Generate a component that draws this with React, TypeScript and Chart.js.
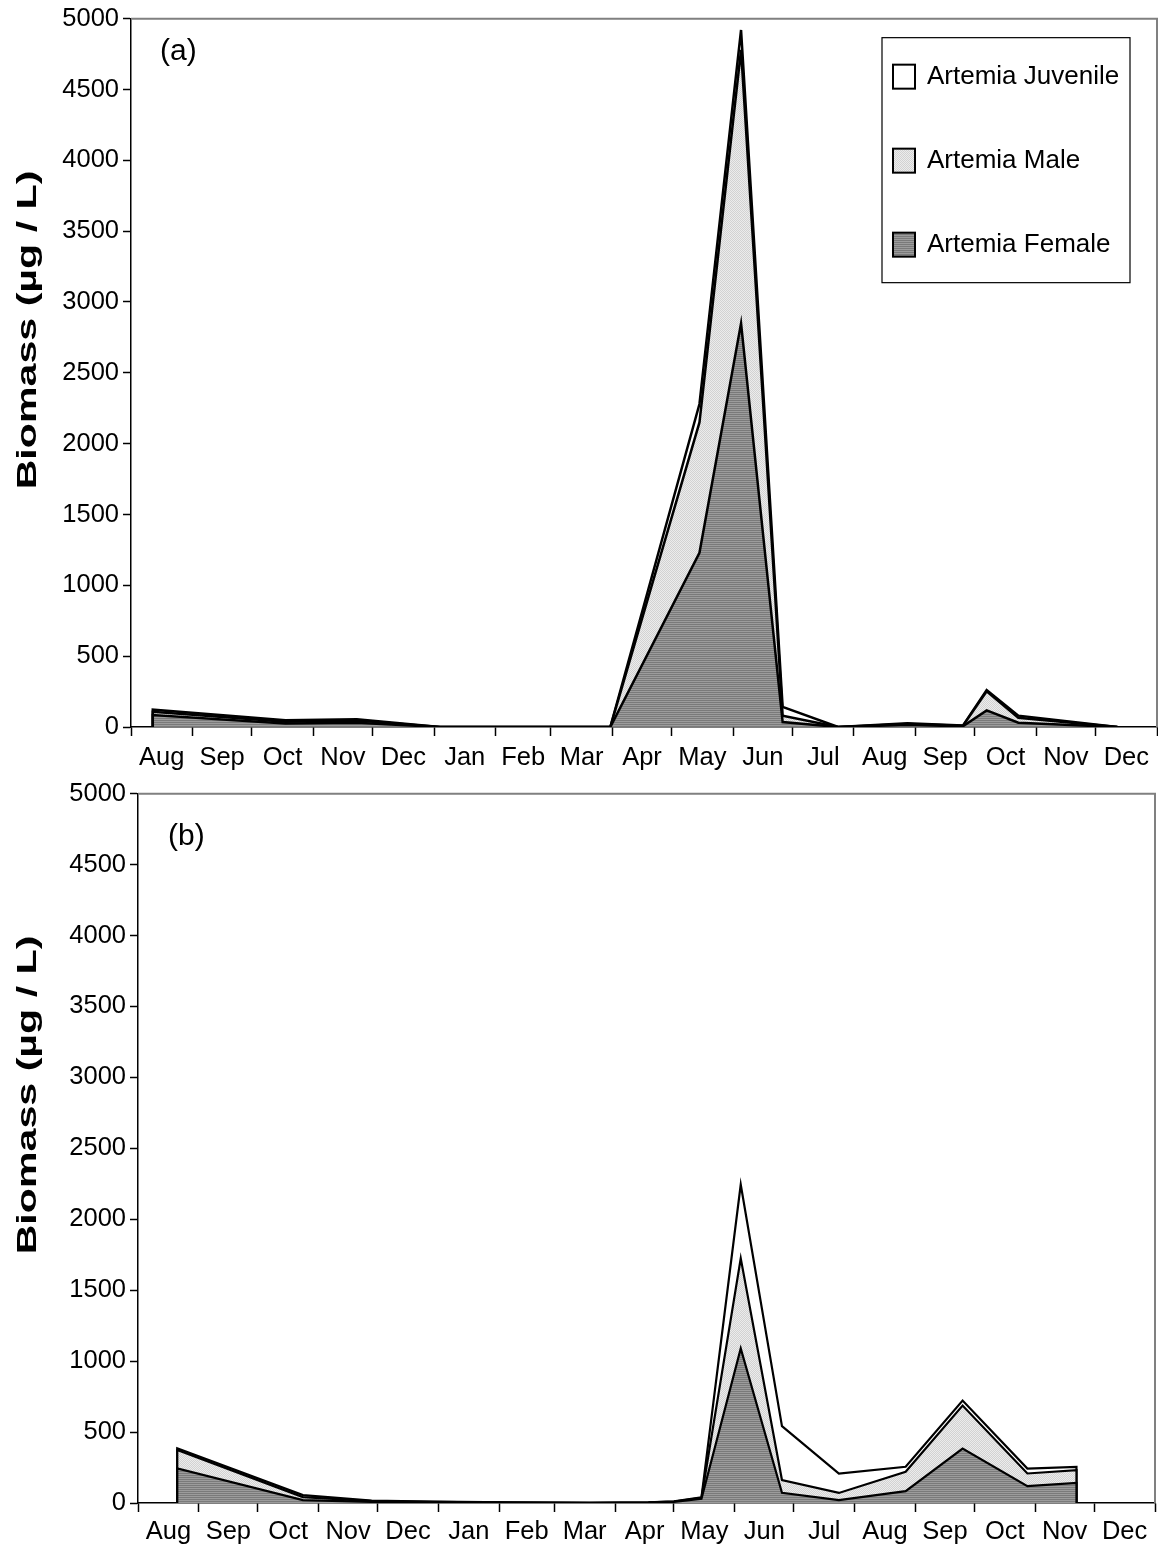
import React, { useEffect, useRef } from 'react';
import { Chart, registerables } from 'chart.js';

Chart.register(...registerables);

// ---------- axis data ----------
const MONTH_LABELS = ['Aug', 'Sep', 'Oct', 'Nov', 'Dec', 'Jan', 'Feb', 'Mar', 'Apr', 'May', 'Jun', 'Jul', 'Aug', 'Sep', 'Oct', 'Nov', 'Dec'];
const MONTH_LENGTHS = [31, 30, 31, 30, 31, 31, 28, 31, 30, 31, 30, 31, 31, 30, 31, 30, 31];
const Y_MAX = 5000;
const Y_STEP = 500;
const Y_TITLE = 'Biomass (µg / L)';
const SERIES_LABELS = ['Artemia Female', 'Artemia Male', 'Artemia Juvenile'];

// ---------- panel (a) : sampling day (days since 1 Aug, first year) ----------
const DAYS_A = [11, 78, 114, 156, 184, 212, 242, 287, 308, 329, 357, 392, 420, 432, 448, 498];
const FEMALE_A = [85, 25, 30, 0, 0, 0, 0, 1230, 2850, 35, 0, 15, 5, 117, 30, 0];
const MALE_A = [22, 12, 15, 0, 0, 0, 0, 920, 1930, 45, 0, 6, 3, 135, 35, 0];
const JUVENILE_A = [15, 10, 10, 0, 0, 0, 0, 130, 140, 62, 0, 5, 2, 8, 15, 0];

// ---------- panel (b) ----------
const DAYS_B = [20, 84, 119, 150, 190, 230, 260, 273, 287, 307, 328, 357, 391, 420, 453, 478];
const FEMALE_B = [243, 20, 8, 5, 2, 1, 3, 8, 30, 1090, 72, 21, 84, 384, 119, 142];
const MALE_B = [130, 22, 5, 3, 1, 0, 1, 2, 7, 635, 90, 50, 136, 303, 89, 89];
const JUVENILE_B = [12, 14, 4, 2, 1, 0, 1, 2, 3, 520, 380, 137, 35, 35, 35, 24];

const FONT = "'Liberation Sans', Arial, sans-serif";

function makePattern(kind: 'female' | 'male' | 'white'): CanvasPattern | string {
  if (kind === 'white') return '#ffffff';
  const c = document.createElement('canvas');
  c.width = 2;
  c.height = 2;
  const g = c.getContext('2d')!;
  if (kind === 'female') {
    g.fillStyle = '#9c9c9c';
    g.fillRect(0, 0, 2, 2);
    g.fillStyle = '#7a7a7a';
    g.fillRect(0, 0, 2, 1);
  } else {
    g.fillStyle = '#ececec';
    g.fillRect(0, 0, 2, 2);
    g.fillStyle = '#d2d2d2';
    g.fillRect(0, 0, 1, 1);
    g.fillRect(1, 1, 1, 1);
  }
  return g.createPattern(c, 'repeat')!;
}

// month boundaries and mid points, alternating: b0, m0, b1, m1, ... bN
function buildXTicks(): number[] {
  const out: number[] = [];
  let acc = 0;
  MONTH_LENGTHS.forEach((len) => {
    out.push(acc);
    out.push(acc + len / 2);
    acc += len;
  });
  out.push(acc);
  return out;
}
const X_TICKS = buildXTicks();
const X_MAX = X_TICKS[X_TICKS.length - 1];

type PanelSpec = {
  tag: string;
  days: number[];
  female: number[];
  male: number[];
  juvenile: number[];
  height: number;
  pad: { top: number; right: number };
  yWidth: number;
  xHeight: number;
  xLabelPad: number;
  tagPos: [number, number];
  legend: boolean;
  titleCenterY: number;
  lineWidth: number;
};

const decorPlugin = {
  id: 'decor',
  afterDraw(chart: any, _args: any, opts: any) {
    const { ctx, chartArea } = chart;
    const { left, top, right, bottom } = chartArea;
    ctx.save();
    // top and right frame
    ctx.strokeStyle = '#808080';
    ctx.lineWidth = 2;
    ctx.beginPath();
    ctx.moveTo(left, top);
    ctx.lineTo(right, top);
    ctx.lineTo(right, bottom);
    ctx.stroke();

    // y axis title (stretched along its length like the reference)
    ctx.save();
    ctx.translate(28, opts.titleCenterY);
    ctx.rotate(-Math.PI / 2);
    ctx.scale(1.47, 1);
    ctx.fillStyle = '#000';
    ctx.font = `bold 28px ${FONT}`;
    ctx.textAlign = 'center';
    ctx.textBaseline = 'middle';
    ctx.fillText(opts.title, 0, 0);
    ctx.restore();

    // panel tag
    ctx.fillStyle = '#000';
    ctx.font = `30px ${FONT}`;
    ctx.textBaseline = 'middle';
    ctx.textAlign = 'left';
    ctx.fillText(opts.tag, left + opts.tagPos[0], top + opts.tagPos[1]);

    if (opts.legend) {
      const bx = left + 751;
      const by = top + 19;
      const bw = 248;
      const bh = 245;
      ctx.fillStyle = '#fff';
      ctx.fillRect(bx, by, bw, bh);
      ctx.strokeStyle = '#000';
      ctx.lineWidth = 1.2;
      ctx.strokeRect(bx, by, bw, bh);
      const ds = chart.data.datasets.slice().reverse();
      const rowY = [58, 142, 226];
      ds.forEach((d: any, i: number) => {
        const cy = top + rowY[i];
        ctx.fillStyle = d.backgroundColor;
        ctx.fillRect(bx + 11, cy - 12, 22, 24);
        ctx.strokeStyle = '#000';
        ctx.lineWidth = 2;
        ctx.strokeRect(bx + 11, cy - 12, 22, 24);
        ctx.fillStyle = '#000';
        ctx.font = `26px ${FONT}`;
        ctx.textBaseline = 'middle';
        ctx.textAlign = 'left';
        ctx.fillText(d.label, bx + 45, cy);
      });
    }
    ctx.restore();
  },
};

function buildChart(canvas: HTMLCanvasElement, spec: PanelSpec) {
  const n = spec.days.length;
  const cumF = spec.female.slice();
  const cumM = spec.female.map((v, i) => v + spec.male[i]);
  const cumJ = cumM.map((v, i) => v + spec.juvenile[i]);
  const toPts = (vals: number[]) => [
    { x: spec.days[0], y: 0 },
    ...vals.map((y, i) => ({ x: spec.days[i], y })),
    { x: spec.days[n - 1], y: 0 },
  ];
  const fills = [makePattern('female'), makePattern('male'), makePattern('white')];
  const cums = [cumF, cumM, cumJ];

  const datasets = cums.map((vals, k) => ({
    label: SERIES_LABELS[k],
    data: toPts(vals),
    borderColor: '#000',
    borderWidth: spec.lineWidth,
    backgroundColor: fills[k] as any,
    fill: k === 0 ? 'origin' : '-1',
    pointRadius: 0,
    tension: 0,
  }));

  return new Chart(canvas, {
    type: 'line',
    data: { datasets },
    plugins: [decorPlugin],
    options: {
      responsive: false,
      animation: false,
      devicePixelRatio: 1,
      events: [],
      layout: { padding: { top: spec.pad.top, right: spec.pad.right, left: 0, bottom: 0 } },
      plugins: {
        legend: { display: false },
        tooltip: { enabled: false },
        decor: {
          tag: spec.tag,
          tagPos: spec.tagPos,
          legend: spec.legend,
          title: Y_TITLE,
          titleCenterY: spec.titleCenterY,
        },
      } as any,
      scales: {
        x: {
          type: 'linear',
          min: 0,
          max: X_MAX,
          afterBuildTicks: (scale: any) => {
            scale.ticks = X_TICKS.map((v) => ({ value: v }));
          },
          afterFit: (scale: any) => {
            scale.height = spec.xHeight;
            scale.paddingLeft = 0;
            scale.paddingRight = 0;
          },
          border: { color: '#000', width: 1.5 },
          grid: {
            drawOnChartArea: false,
            tickLength: 9,
            tickWidth: 1.5,
            tickColor: (ctx: any) => (ctx.index % 2 === 0 ? '#000' : 'rgba(0,0,0,0)'),
            color: (ctx: any) => (ctx.index % 2 === 0 ? '#000' : 'rgba(0,0,0,0)'),
          },
          ticks: {
            autoSkip: false,
            maxRotation: 0,
            minRotation: 0,
            padding: spec.xLabelPad,
            color: '#000',
            font: { family: FONT, size: 25.5, lineHeight: 1.15 },
            callback: (_v: any, i: number) => (i % 2 === 1 ? MONTH_LABELS[(i - 1) / 2] : ''),
          },
        },
        y: {
          type: 'linear',
          min: 0,
          max: Y_MAX,
          afterFit: (scale: any) => {
            scale.width = spec.yWidth;
          },
          border: { color: '#000', width: 1.5 },
          grid: { drawOnChartArea: false, tickLength: 8, tickWidth: 1.5, tickColor: '#000', color: '#000' },
          ticks: {
            stepSize: Y_STEP,
            padding: 4,
            color: '#000',
            font: { family: FONT, size: 25.5, lineHeight: 1.15 },
            callback: (v: any) => String(v),
          },
        },
      },
    } as any,
  });
}

const PANEL_A: PanelSpec = {
  tag: '(a)',
  days: DAYS_A,
  female: FEMALE_A,
  male: MALE_A,
  juvenile: JUVENILE_A,
  height: 775,
  pad: { top: 16, right: 1 },
  yWidth: 131,
  xHeight: 48,
  xLabelPad: 7,
  tagPos: [29, 33],
  legend: true,
  titleCenterY: 330,
  lineWidth: 2.5,
};

const PANEL_B: PanelSpec = {
  tag: '(b)',
  days: DAYS_B,
  female: FEMALE_B,
  male: MALE_B,
  juvenile: JUVENILE_B,
  height: 773,
  pad: { top: 15, right: 3 },
  yWidth: 138,
  xHeight: 45,
  xLabelPad: 5,
  tagPos: [30, 43],
  legend: false,
  titleCenterY: 320,
  lineWidth: 2.2,
};

function Panel({ spec }: { spec: PanelSpec }) {
  const ref = useRef<HTMLCanvasElement>(null);
  useEffect(() => {
    const chart = buildChart(ref.current!, spec);
    return () => chart.destroy();
  }, [spec]);
  return (
    <canvas
      ref={ref}
      width={1158}
      height={spec.height}
      style={{ display: 'block', width: 1158, height: spec.height }}
    />
  );
}

export default function App() {
  useEffect(() => {
    document.body.style.margin = '0';
    document.body.style.background = '#fff';
  }, []);
  return (
    <div style={{ width: 1158, background: '#fff' }}>
      <Panel spec={PANEL_A} />
      <Panel spec={PANEL_B} />
    </div>
  );
}
